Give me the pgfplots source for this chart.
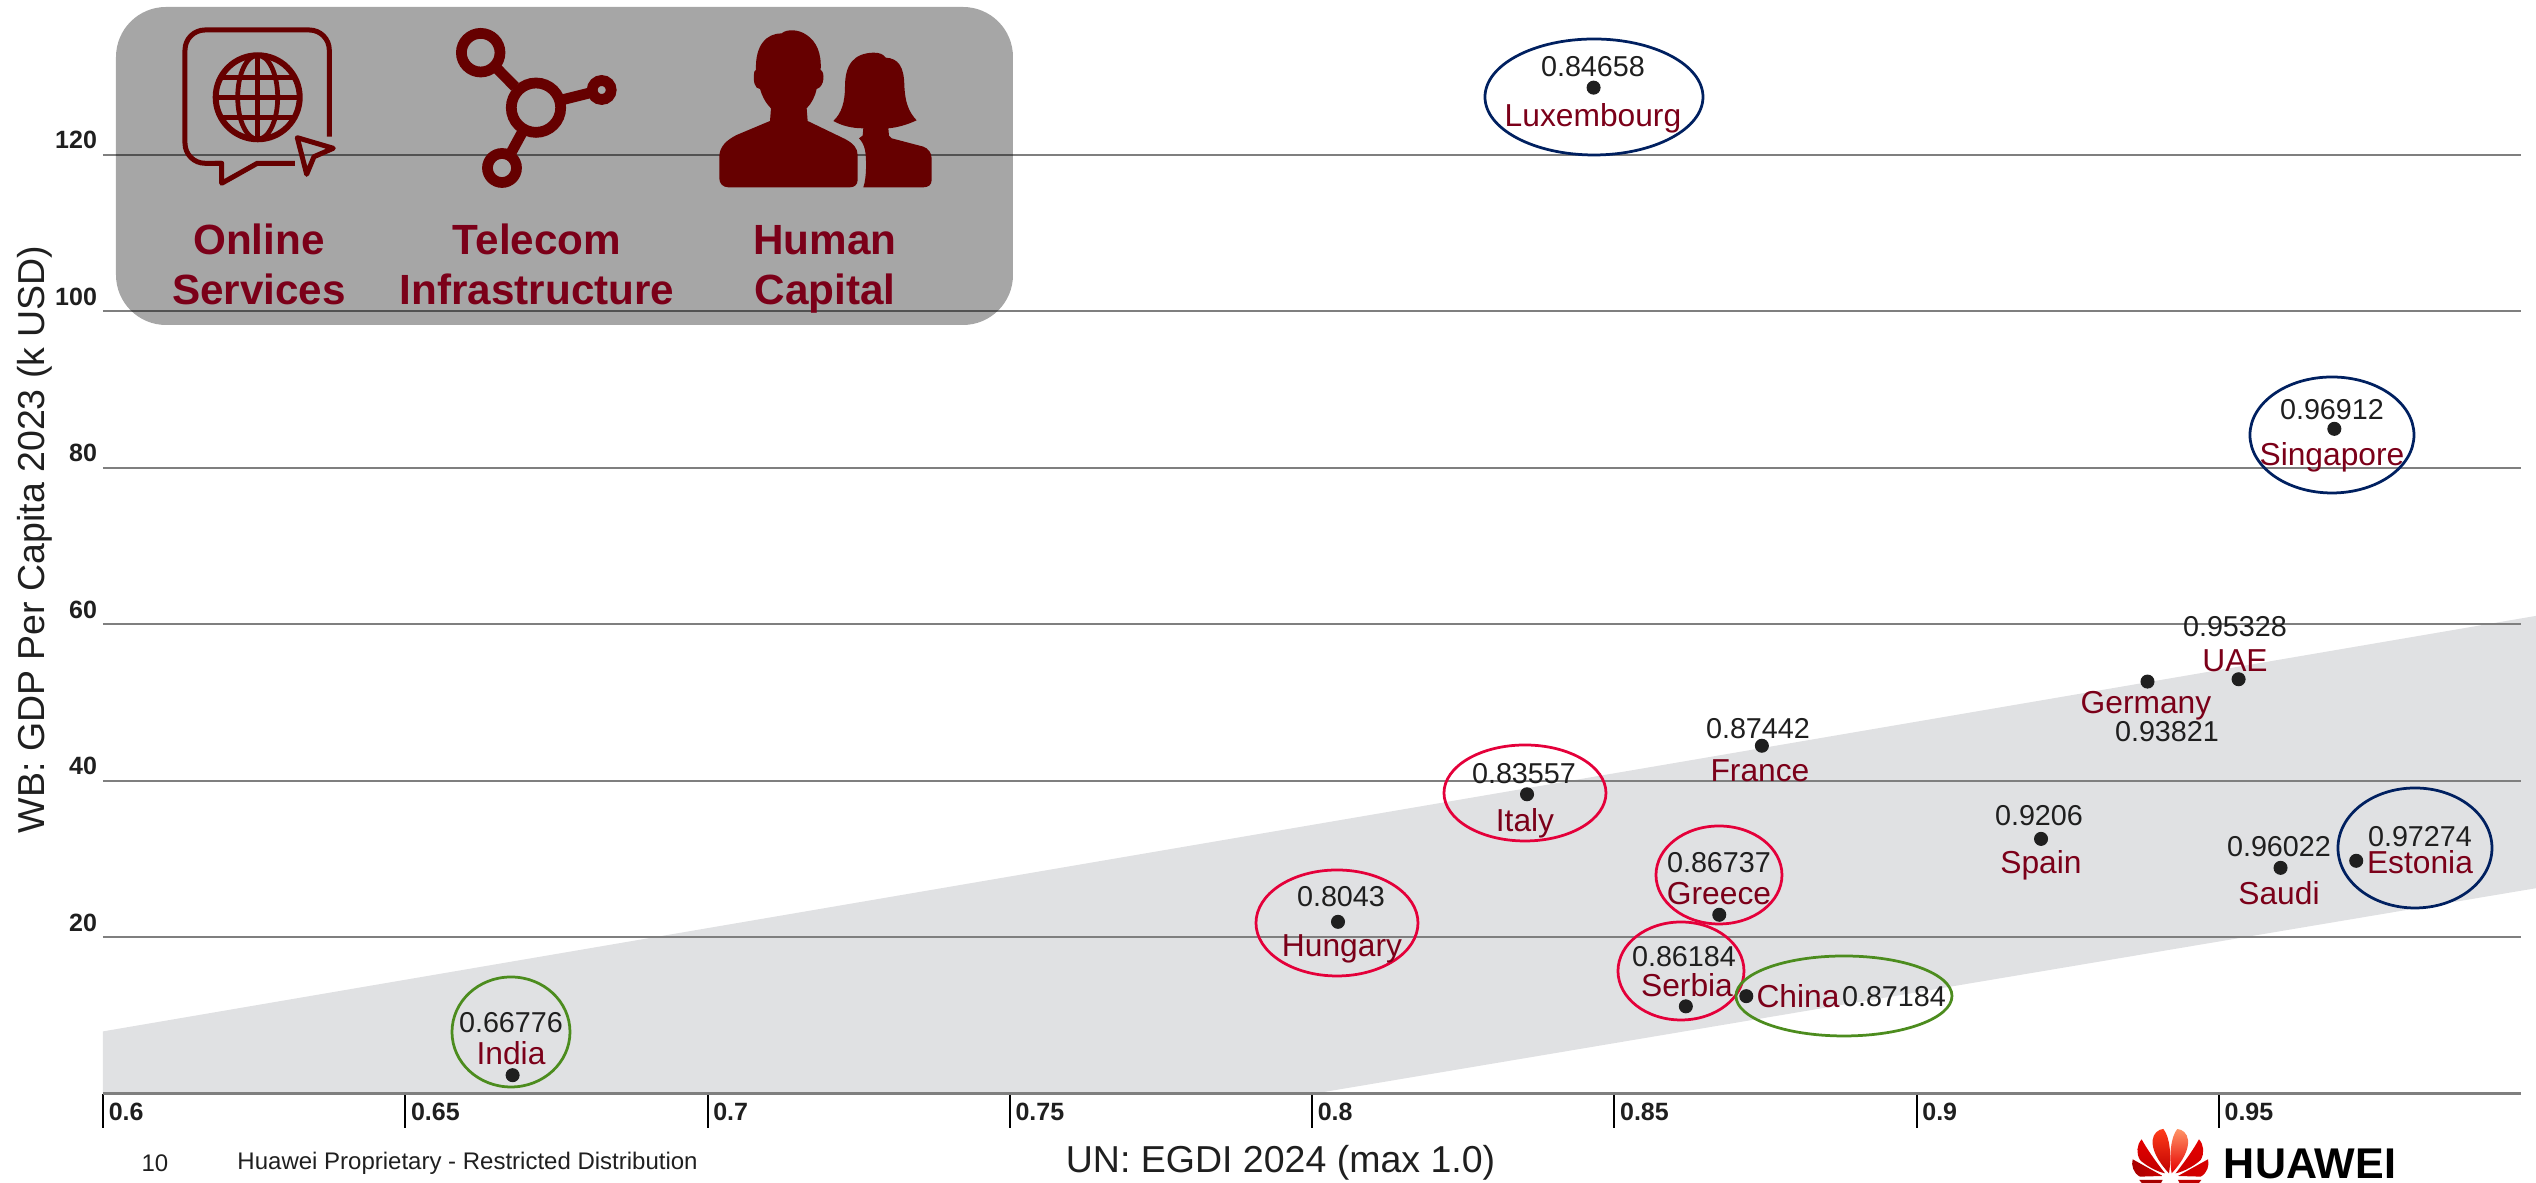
\documentclass[border=0pt]{standalone}
\usepackage{pgfplots}
\pgfplotsset{compat=1.18}
\usepackage{fontspec}
\setmainfont{Liberation Sans}
\definecolor{icon}{HTML}{660000}
\definecolor{lab}{HTML}{7B0019}
\definecolor{txt}{HTML}{1F1F1F}
\definecolor{band}{HTML}{E0E1E3}
\definecolor{gridc}{HTML}{7F7F7F}
\definecolor{redc}{HTML}{E4003A}
\definecolor{navyc}{HTML}{002060}
\definecolor{greenc}{HTML}{4C8C1E}
\newcommand\valfont{\fontsize{11.5}{13}\selectfont}
\newcommand\namefont{\fontsize{12.7}{14}\selectfont}
\newcommand\val[3]{\node[text=txt,font=\valfont,text height=8.4pt,text depth=0pt,inner sep=0pt] at (#1,#2) {#3};}
\newcommand\nam[3]{\node[text=lab,font=\namefont,text height=9.2pt,text depth=0pt,inner sep=0pt] at (#1,#2) {#3};}
\pgfplotstableread{
x y
0.84658 128.6
0.96912 85.0
0.95328 53.0
0.93821 52.7
0.87442 44.5
0.83557 38.3
0.9206 32.6
0.96022 28.9
0.97274 29.8
0.86737 22.9
0.8043 22.0
0.86184 11.2
0.87184 12.5
0.66776 2.4
}\pts
\begin{document}
\begin{tikzpicture}
\path[use as bounding box] (0,0) rectangle (1014.4pt,473.2pt);
\begin{axis}[
  at={(41.2pt,35.6pt)}, anchor=origin,
  scale only axis, width=967.2pt, height=437.6pt,
  xmin=0.6, xmax=1.0, ymin=0, ymax=139.8,
  clip=false, axis on top=true,
  axis x line=bottom, axis y line=left,
  x axis line style={-,draw=gridc,line width=1.2pt},
  y axis line style={draw=none},
  xtick={0.6,0.65,0.7,0.75,0.8,0.85,0.9,0.95},
  xticklabels={0.6,0.65,0.7,0.75,0.8,0.85,0.9,0.95},
  ytick={20,40,60,80,100,120},
  yticklabels={20,40,60,80,100,120},
  ymajorgrids, grid style={draw=gridc,line width=0.8pt},
  tick align=outside, major tick length=13.6pt,
  xtick style={draw=black,line width=0.8pt},
  ytick style={draw=none},
  tick label style={font=\bfseries\fontsize{10}{12}\selectfont,text=txt},
  xticklabel style={anchor=west,xshift=-1.2pt,yshift=6.4pt},
  yticklabel style={anchor=east,xshift=14.7pt,yshift=6pt},
  xlabel={UN: EGDI 2024 (max 1.0)},
  ylabel={WB: GDP Per Capita 2023 (k USD)},
  every axis x label/.style={at={(axis description cs:0.487,-0.063)},anchor=center,font=\fontsize{15}{18}\selectfont,text=txt},
  every axis y label/.style={at={(axis description cs:-0.0282,0.507)},anchor=center,rotate=90,font=\fontsize{15}{18}\selectfont,text=txt},
]
\addplot[fill=band,draw=none] coordinates {(0.6,0) (0.6,8) (1.0025,61.1) (1.0025,26.3) (0.8,0)} -- cycle;
\addplot[only marks,mark=*,mark size=2.6pt,mark options={fill=txt,draw=txt}] table[x=x,y=y] {\pts};
\end{axis}
\begin{scope}[x=0.4pt,y=-0.4pt,shift={(0,473.2pt)}]
% ellipses
\begin{scope}[line width=1.1pt]
\draw[navyc] (1594,97) ellipse [x radius=109,y radius=58];
\draw[navyc] (2332,435) ellipse [x radius=82,y radius=58];
\draw[navyc] (2415,848) ellipse [x radius=77,y radius=60];
\draw[redc] (1525,793) ellipse [x radius=81,y radius=48];
\draw[redc] (1719,875) ellipse [x radius=63,y radius=49];
\draw[redc] (1337,923) ellipse [x radius=81,y radius=53];
\draw[redc] (1681,971) ellipse [x radius=63,y radius=49];
\draw[greenc] (1844,996) ellipse [x radius=108,y radius=40];
\draw[greenc] (511,1032) ellipse [x radius=59,y radius=55];
\end{scope}
% labels
\val{1593}{66}{0.84658}\nam{1593}{115}{Luxembourg}
\val{2332}{409}{0.96912}\nam{2332}{454}{Singapore}
\val{2235}{626}{0.95328}\nam{2235}{660}{UAE}
\nam{2146}{702}{Germany}\val{2167}{731}{0.93821}
\val{1758}{728}{0.87442}\nam{1760}{770}{France}
\val{1524}{773}{0.83557}\nam{1525}{820}{Italy}
\val{2039}{815}{0.9206}\nam{2041}{862}{Spain}
\val{2279}{846}{0.96022}\nam{2279}{893}{Saudi}
\val{2420}{836}{0.97274}\nam{2420}{862}{Estonia}
\val{1719}{862}{0.86737}\nam{1719}{893}{Greece}
\val{1341}{896}{0.8043}\nam{1342}{945}{Hungary}
\val{1684}{956}{0.86184}\nam{1687}{985}{Serbia}
\nam{1798}{996}{China}\val{1894}{996}{0.87184}
\val{511}{1022}{0.66776}\nam{511}{1053}{India}
% panel
\fill[black,opacity=0.35,rounded corners=20pt] (116,7) rectangle (1013,325);
% online services icon
\begin{scope}[draw=icon,line width=2pt,line join=round]
\draw[rounded corners=8pt] (329.3,136.7) -- (329.3,30) -- (185,30) -- (185,163.3) -- (221.7,163.3);
\draw (215,163.3) -- (221.7,163.3) -- (221.7,183.3) -- (257.3,163.3) -- (295,163.3);
\draw (297.3,137.7) -- (333.3,148.3) -- (314,156.7) -- (306.7,174.3) -- cycle;
\draw[line width=2.4pt] (257.7,97.3) circle [radius=42];
\begin{scope}[line width=1.9pt]
\draw (257.7,97.3) ellipse [x radius=20,y radius=42];
\draw (257.7,55.3) -- (257.7,139.3);
\draw (215.7,97.3) -- (299.7,97.3);
\draw (220.7,77.3) -- (294.7,77.3);
\draw (220.7,117.3) -- (294.7,117.3);
\end{scope}
\end{scope}
% telecom icon
\begin{scope}[draw=icon,line width=4.3pt]
\draw (536,107.7) circle [radius=24.7];
\draw (480.7,52.7) circle [radius=19.3];
\draw (601.7,90) circle [radius=9.5];
\draw (502,168) circle [radius=14.5];
\draw (496.7,68.3) -- (515,86.7);
\draw (561.7,100) -- (588.3,93.3);
\draw (521.7,133.3) -- (511.7,151.7);
\end{scope}
% human icon
\begin{scope}[shift={(710,15)},x=0.13333pt,y=-0.13333pt]
\fill[icon] (180,318) -- (183,280) .. controls (165,262) and (155,240) .. (150,222) .. controls (135,222) and (128,200) .. (133,170) -- (138,165) .. controls (135,90) and (170,55) .. (215,55) .. controls (230,42) and (265,42) .. (290,60) .. controls (320,80) and (335,115) .. (332,165) .. controls (345,170) and (345,215) .. (320,222) .. controls (315,245) and (305,265) .. (290,280) -- (293,318) -- (405,372) .. controls (430,385) and (443,400) .. (443,420) -- (443,495) .. controls (443,510) and (432,517) .. (420,517) -- (55,517) .. controls (38,517) and (28,505) .. (28,490) -- (28,425) .. controls (28,395) and (50,375) .. (80,360) -- cycle;
\fill[icon] (370,318) .. controls (395,295) and (405,260) .. (405,215) .. controls (405,150) and (430,115) .. (490,113) .. controls (510,113) and (520,118) .. (527,128) .. controls (565,130) and (582,155) .. (583,210) .. controls (585,260) and (595,290) .. (620,316) .. controls (590,330) and (560,338) .. (535,340) -- (537,362) -- (545,370) -- (640,395) .. controls (655,400) and (665,415) .. (665,430) -- (665,495) .. controls (665,510) and (655,517) .. (640,517) -- (460,517) .. controls (470,490) and (470,430) .. (465,405) .. controls (462,390) and (455,378) .. (447,370) -- (458,362) -- (460,340) .. controls (425,340) and (395,332) .. (370,318) -- cycle;
\end{scope}
% panel captions
\begin{scope}[every node/.style={text=lab,font=\bfseries\fontsize{16.9}{20}\selectfont,text height=12.2pt,text depth=0pt,inner sep=0pt}]
\node at (259,239) {Online};
\node at (259,289) {Services};
\node at (537,239) {Telecom};
\node at (537,289) {Infrastructure};
\node at (825,239) {Human};
\node at (825,289) {Capital};
\end{scope}
% footer
\node[text=txt,font=\fontsize{9.6}{12}\selectfont,inner sep=0pt] at (155,1163) {10};
\node[text=txt,font=\fontsize{9.6}{12}\selectfont,inner sep=0pt,anchor=west] at (237,1163) {Huawei Proprietary - Restricted Distribution};
% logo
\begin{scope}
\clip (2120,1120) rectangle (2280,1183);
\begin{scope}[shift={(2120,1120)},x=0.13333pt,y=-0.13333pt]
\shade[top color=red!70!orange!90!white,bottom color=red!75!black] (147,160) .. controls (110,120) and (95,85) .. (98,60) .. controls (100,40) and (115,28) .. (130,27) .. controls (150,50) and (155,110) .. (147,160) -- cycle;
\shade[top color=red!90!black,bottom color=red!75!black] (135,160) .. controls (100,115) and (80,85) .. (65,58) .. controls (50,75) and (48,100) .. (60,120) .. controls (75,135) and (110,155) .. (135,160) -- cycle;
\shade[left color=red!65!black,right color=red!80!black] (128,168) -- (38,118) .. controls (33,135) and (40,160) .. (60,170) -- cycle;
\fill[red!65!black] (58,180) -- (128,180) -- (120,195) -- (70,195) -- cycle;
\shade[top color=red!40!orange!60!white,bottom color=red!90!black] (155,160) .. controls (192,120) and (207,85) .. (204,60) .. controls (202,40) and (187,28) .. (172,27) .. controls (152,50) and (147,110) .. (155,160) -- cycle;
\shade[top color=red!90!black,bottom color=red!80!black] (167,160) .. controls (202,115) and (222,85) .. (237,58) .. controls (252,75) and (254,100) .. (242,120) .. controls (227,135) and (192,155) .. (167,160) -- cycle;
\shade[left color=red!80!black,right color=red!85!black] (174,168) -- (264,118) .. controls (269,135) and (262,160) .. (242,170) -- cycle;
\fill[red!75!black] (244,180) -- (174,180) -- (182,195) -- (232,195) -- cycle;
\end{scope}
\end{scope}
\node[text=black,font=\bfseries\fontsize{17.2}{20}\selectfont,text height=12.2pt,text depth=0pt,inner sep=0pt] at (2310,1163) {HUAWEI};
\end{scope}
\end{tikzpicture}
\end{document}
